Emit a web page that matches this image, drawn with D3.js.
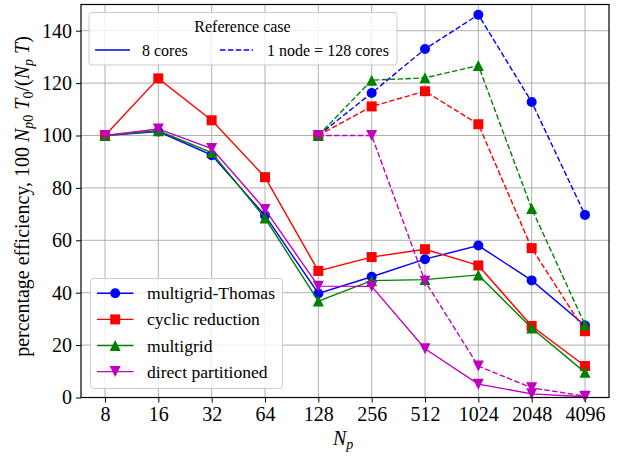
<!DOCTYPE html>
<html>
<head>
<meta charset="utf-8">
<script src="https://cdn.jsdelivr.net/npm/d3@7"></script>
</head>
<body style="margin:0">
<svg id="chart" width="617" height="459"></svg>
<script>
// processor counts
const npAll = [8, 16, 32, 64, 128, 256, 512, 1024, 2048, 4096];
const npNode = [128, 256, 512, 1024, 2048, 4096];

// reference case: 8 cores (solid)
const mgThomas8 = [100, 101.5, 92.5, 69.5, 39.7, 46.1, 52.8, 58.0, 44.7, 27.5];
const cyclic8 = [100, 121.8, 105.8, 84.1, 48.3, 53.6, 56.6, 50.4, 27.3, 12.0];
const multigrid8 = [100, 101.8, 93.5, 68.5, 36.8, 44.6, 45.0, 46.8, 26.5, 9.6];
const direct8 = [100, 102.5, 95.0, 71.8, 42.5, 42.4, 18.6, 5.1, 1.4, 0.3];

// reference case: 1 node = 128 cores (dashed)
const mgThomas128 = [100, 116.2, 133.0, 146.1, 112.8, 69.7];
const cyclic128 = [100, 111.1, 116.9, 104.3, 57.0, 25.3];
const multigrid128 = [100, 121.1, 122.0, 126.7, 72.1, 27.8];
const direct128 = [100, 100, 44.4, 12.0, 3.7, 0.5];

const yTicks = [0, 20, 40, 60, 80, 100, 120, 140];
const methods = ["multigrid-Thomas", "cyclic reduction", "multigrid", "direct partitioned"];
const colors = ["#0000ff", "#ff0000", "#008000", "#bf00bf"];
const markers = ["circle", "square", "triUp", "triDown"];

const svg = d3.select("#chart");
const pl = 81, pr = 609, pt = 4.5, pb = 397.5;

const x = d3.scaleLog().base(2)
    .domain([8 / Math.pow(2, 0.45), 4096 * Math.pow(2, 0.45)])
    .range([pl, pr]);
const y = d3.scaleLinear().domain([0, 150]).range([pb, pt]);

// grid
const grid = svg.append("g");
grid.selectAll(".gx").data(npAll).enter().append("line")
    .attr("x1", d => x(d)).attr("x2", d => x(d))
    .attr("y1", pt).attr("y2", pb)
    .attr("stroke", "#b0b0b0").attr("stroke-width", 1);
grid.selectAll(".gy").data(yTicks).enter().append("line")
    .attr("x1", pl).attr("x2", pr)
    .attr("y1", d => y(d)).attr("y2", d => y(d))
    .attr("stroke", "#b0b0b0").attr("stroke-width", 1);

// axes
const xAxis = d3.axisBottom(x).tickValues(npAll).tickFormat(d3.format("d")).tickSize(5).tickPadding(4);
const yAxis = d3.axisLeft(y).tickValues(yTicks).tickFormat(d3.format("d")).tickSize(5).tickPadding(4);

function styleAxis(g) {
    g.attr("font-family", null).attr("font-size", null);
    g.select(".domain").remove();
    g.selectAll(".tick line").attr("stroke", "#000").attr("stroke-width", 1);
    g.selectAll(".tick text").attr("font-size", 20).attr("fill", "#000");
}
svg.append("g").attr("transform", `translate(0,${pb})`).call(xAxis).call(styleAxis);
svg.append("g").attr("transform", `translate(${pl},0)`).call(yAxis).call(styleAxis);

// marker drawing
function drawMarker(g, kind, cx, cy, color) {
    if (kind === "circle") {
        g.append("circle").attr("cx", cx).attr("cy", cy).attr("r", 5).attr("fill", color);
    } else if (kind === "square") {
        g.append("rect").attr("x", cx - 5).attr("y", cy - 5).attr("width", 10).attr("height", 10).attr("fill", color);
    } else if (kind === "triUp") {
        g.append("path").attr("d", `M${cx},${cy - 5.5}L${cx + 5.5},${cy + 5.5}L${cx - 5.5},${cy + 5.5}Z`).attr("fill", color);
    } else {
        g.append("path").attr("d", `M${cx},${cy + 5.5}L${cx + 5.5},${cy - 5.5}L${cx - 5.5},${cy - 5.5}Z`).attr("fill", color);
    }
}

const line = d3.line().x(d => x(d[0])).y(d => y(d[1]));
const plot = svg.append("g");

function drawSeries(xs, ys, i, dashed) {
    const pts = xs.map((v, k) => [v, ys[k]]);
    plot.append("path").datum(pts)
        .attr("d", line)
        .attr("fill", "none")
        .attr("stroke", colors[i])
        .attr("stroke-width", 1.4)
        .attr("stroke-dasharray", dashed ? "5.5,2.4" : null);
    pts.forEach(p => drawMarker(plot, markers[i], x(p[0]), y(p[1]), colors[i]));
}

[mgThomas8, cyclic8, multigrid8, direct8].forEach((s, i) => drawSeries(npAll, s, i, false));
[mgThomas128, cyclic128, multigrid128, direct128].forEach((s, i) => drawSeries(npNode, s, i, true));

// frame
svg.append("rect").attr("x", pl).attr("y", pt)
    .attr("width", pr - pl).attr("height", pb - pt)
    .attr("fill", "none").attr("stroke", "#000").attr("stroke-width", 1.2);

// axis labels
svg.append("text").attr("x", 333).attr("y", 445).attr("font-size", 20)
    .attr("font-style", "italic")
    .call(t => {
        t.append("tspan").text("N");
        t.append("tspan").attr("font-size", 14).attr("dy", 4).text("p");
    });

const yl = svg.append("text")
    .attr("transform", "translate(29,196.5) rotate(-90)")
    .attr("text-anchor", "middle").attr("font-size", 20);
yl.append("tspan").text("percentage efficiency, 100 ");
yl.append("tspan").attr("font-style", "italic").text("N");
yl.append("tspan").attr("font-size", 14).attr("dy", 4).attr("font-style", "italic").text("p");
yl.append("tspan").attr("font-size", 14).text("0");
yl.append("tspan").attr("dy", -4).attr("font-style", "italic").text(" T");
yl.append("tspan").attr("font-size", 14).attr("dy", 4).text("0");
yl.append("tspan").attr("dy", -4).text("/(");
yl.append("tspan").attr("font-style", "italic").text("N");
yl.append("tspan").attr("font-size", 14).attr("dy", 4).attr("font-style", "italic").text("p");
yl.append("tspan").attr("dy", -4).attr("font-style", "italic").text(" T");
yl.append("tspan").text(")");

// top legend (reference case)
const lg1 = svg.append("g");
lg1.append("rect").attr("x", 89).attr("y", 12.5).attr("width", 308).attr("height", 52.5)
    .attr("rx", 3).attr("fill", "#fff").attr("fill-opacity", 0.8)
    .attr("stroke", "#cccccc").attr("stroke-width", 1);
lg1.append("text").attr("x", 242.5).attr("y", 32).attr("text-anchor", "middle")
    .attr("font-size", 16).text("Reference case");
lg1.append("line").attr("x1", 95).attr("x2", 130).attr("y1", 50).attr("y2", 50)
    .attr("stroke", colors[0]).attr("stroke-width", 1.6);
lg1.append("text").attr("x", 142).attr("y", 55.5).attr("font-size", 16).text("8 cores");
lg1.append("line").attr("x1", 220).attr("x2", 253).attr("y1", 50).attr("y2", 50)
    .attr("stroke", colors[0]).attr("stroke-width", 1.6).attr("stroke-dasharray", "5.5,2.4");
lg1.append("text").attr("x", 267).attr("y", 55.5).attr("font-size", 16).text("1 node = 128 cores");

// bottom legend (methods)
const lg2 = svg.append("g");
lg2.append("rect").attr("x", 90.5).attr("y", 278.5).attr("width", 192).attr("height", 110)
    .attr("rx", 3).attr("fill", "#fff").attr("fill-opacity", 0.8)
    .attr("stroke", "#cccccc").attr("stroke-width", 1);
methods.forEach((m, i) => {
    const cy = 293.3 + i * 26.1;
    lg2.append("line").attr("x1", 97).attr("x2", 133.5).attr("y1", cy).attr("y2", cy)
        .attr("stroke", colors[i]).attr("stroke-width", 1.4);
    drawMarker(lg2, markers[i], 115.2, cy, colors[i]);
    lg2.append("text").attr("x", 147).attr("y", cy + 6).attr("font-size", 17.6).text(m);
});

// one serif face for every label
svg.selectAll("text").style("font-family", "'Liberation Serif'").attr("fill", "#000");
</script>
</body>
</html>
